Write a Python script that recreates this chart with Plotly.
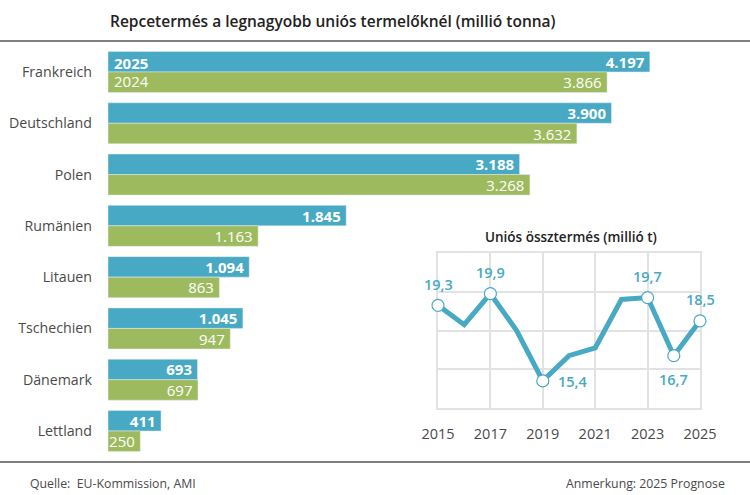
import plotly.graph_objects as go

countries = ["Frankreich", "Deutschland", "Polen", "Rumänien", "Litauen", "Tschechien", "Dänemark", "Lettland"]
v2025 = [4197, 3900, 3188, 1845, 1094, 1045, 693, 411]
v2024 = [3866, 3632, 3268, 1163, 863, 947, 697, 250]
t2025 = ["4.197", "3.900", "3.188", "1.845", "1.094", "1.045", "693", "411"]
t2024 = ["3.866", "3.632", "3.268", "1.163", "863", "947", "697", "250"]

years = list(range(2015, 2026))
total = [19.3, 18.3, 19.9, 18.0, 15.4, 16.7, 17.1, 19.6, 19.7, 16.7, 18.5]
mark_years = [2015, 2017, 2019, 2023, 2024, 2025]
mark_vals = [19.3, 19.9, 15.4, 19.7, 16.7, 18.5]
mark_text = ["19,3", "19,9", "15,4", "19,7", "16,7", "18,5"]

BLUE, GREEN, TXT, FONT = "#47a9c4", "#9dbb5e", "#4a4a4a", "Open Sans"
GRID = "#e2e2e2"
W, H = 750, 495
fx = lambda p: p / W
fy = lambda p: 1 - p / H
label_shift = [(0, 21), (0, 21), (30, -1), (0, 21), (0, -24), (0, 21)]

fig = go.Figure()
fig.add_bar(y=countries, x=v2025, orientation="h", marker_color=BLUE, text=t2025,
            texttemplate="%{text}\u2009", textposition="inside", insidetextanchor="end", constraintext="none",
            textfont=dict(color="white", size=15, family=FONT, weight=700), showlegend=False)
fig.add_bar(y=countries, x=v2024, orientation="h", marker_color=GREEN, text=t2024,
            texttemplate="%{text}\u2009", textposition="inside", insidetextanchor="end", constraintext="none",
            textfont=dict(color="white", size=15, family=FONT), showlegend=False)
fig.add_scatter(x=years, y=total, mode="lines", xaxis="x2", yaxis="y2",
                line=dict(color=BLUE, width=5), showlegend=False)
fig.add_scatter(x=mark_years, y=mark_vals, mode="markers", xaxis="x2", yaxis="y2", cliponaxis=False,
                marker=dict(color="white", size=12, line=dict(color=BLUE, width=1.2)),
                showlegend=False)

annotations = [
    dict(text="Repcetermés a legnagyobb uniós termelőknél (millió tonna)", x=fx(108), y=fy(21),
         xanchor="left", font=dict(size=15.5, color="#222222", family=FONT, weight=600)),
    dict(text="Uniós össztermés (millió t)", x=fx(570.5), y=fy(237), xanchor="center",
         font=dict(size=13.5, color="#222222", family=FONT, weight=600)),
    dict(text="Quelle:  EU-Kommission, AMI", x=fx(28), y=fy(483), xanchor="left",
         font=dict(size=12.3, color=TXT, family=FONT)),
    dict(text="Anmerkung: 2025 Prognose", x=fx(727), y=fy(483), xanchor="right",
         font=dict(size=12.3, color=TXT, family=FONT)),
]
for a in annotations:
    a.update(xref="paper", yref="paper", yanchor="middle", showarrow=False)
annotations += [
    dict(text="2025", x=0, y="Frankreich", yshift=9, xref="x", yref="y", xanchor="left", xshift=4,
         showarrow=False, font=dict(color="white", size=15, family=FONT, weight=700)),
    dict(text="2024", x=0, y="Frankreich", yshift=-9, xref="x", yref="y", xanchor="left", xshift=4,
         showarrow=False, font=dict(color="white", size=15, family=FONT)),
]
for yr, val, txt, (dx, dy) in zip(mark_years, mark_vals, mark_text, label_shift):
    annotations.append(dict(text=txt, x=yr, y=val, xref="x2", yref="y2", xshift=dx, yshift=dy,
                            showarrow=False, xanchor="center", yanchor="middle",
                            font=dict(color=BLUE, size=14.5, family=FONT, weight=600)))

rules = [dict(type="line", xref="paper", yref="paper", x0=0, x1=1, y0=fy(p), y1=fy(p),
              line=dict(color="#555555", width=1.5)) for p in (41, 462)]

fig.update_layout(
    width=W, height=H, margin=dict(l=0, r=0, t=0, b=0, autoexpand=False), autosize=False,
    paper_bgcolor="white", plot_bgcolor="white", barmode="group", bargap=0.2, bargroupgap=0,
    font=dict(family=FONT, color=TXT),
    annotations=annotations, shapes=rules,
    xaxis=dict(domain=[fx(108), 1], range=[0, 642 / 0.1291], visible=False),
    yaxis=dict(domain=[fy(456.65), fy(46.35)], autorange="reversed", showline=False, ticks="",
               showgrid=False, ticklabelstandoff=15, tickfont=dict(size=14.2, color=TXT, family=FONT)),
    xaxis2=dict(domain=[fx(438), fx(700)], range=[2015, 2025], tick0=2015, dtick=2, anchor="y2",
                showgrid=True, gridcolor=GRID, gridwidth=1.5, zeroline=False, ticks="",
                showline=True, linecolor=GRID, linewidth=1.5, mirror=True, layer="below traces",
                ticklabelstandoff=12, tickfont=dict(size=14.5, color=TXT, family=FONT)),
    yaxis2=dict(domain=[fy(408), fy(253)], range=[14, 22], dtick=2, anchor="x2",
                showgrid=True, gridcolor=GRID, gridwidth=1.5, zeroline=False,
                showline=True, linecolor=GRID, linewidth=1.5, mirror=True, layer="below traces",
                showticklabels=False, ticks=""),
)
fig.write_html("out.html", config={"displayModeBar": False},
               post_script="document.body.style.margin='0';document.body.style.overflow='hidden';")
